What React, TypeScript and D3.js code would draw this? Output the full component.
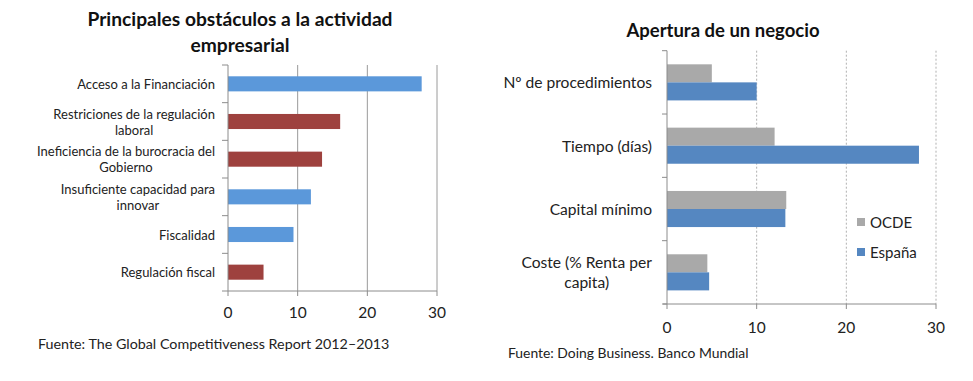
import React from "react";
import * as d3 from "d3";

const leftTitle = ["Principales obstáculos a la actividad", "empresarial"];
const leftCategories = [
  "Acceso a la Financiación",
  "Restriciones de la regulación\nlaboral",
  "Ineficiencia de la burocracia del\nGobierno",
  "Insuficiente capacidad para\ninnovar",
  "Fiscalidad",
  "Regulación fiscal",
];
const leftValues = [27.8, 16.1, 13.5, 11.9, 9.4, 5.1];
const leftGroup = ["a", "b", "b", "a", "a", "b"];
const leftTicks = [0, 10, 20, 30];
const leftSource = "Fuente: The Global Competitiveness Report 2012–2013";

const rightTitle = "Apertura de un negocio";
const rightCategories = [
  "Nº de procedimientos",
  "Tiempo (días)",
  "Capital mínimo",
  "Coste (% Renta per\ncapita)",
];
const seriesNames = ["OCDE", "España"];
const ocdeValues = [5, 12, 13.3, 4.5];
const espanaValues = [10, 28.1, 13.2, 4.7];
const rightTicks = [0, 10, 20, 30];
const rightSource = "Fuente: Doing Business. Banco Mundial";

const FONT = "Lato, 'Open Sans', sans-serif";
const BLUE_L = "#5b98da";
const RED_L = "#9e413e";
const GRAY = "#a9a9a9";
const BLUE_R = "#5587c1";
const AXIS = "#8c8c8c";

function Label({ x, y, text, size }: { x: number; y: number; text: string; size: number }) {
  return (
    <text x={x} y={y} textAnchor="end" fontSize={size} fill="#222" dominantBaseline="central">
      {text}
    </text>
  );
}

function MultiLabel({ right, y, text, size, lh }: { right: number; y: number; text: string; size: number; lh: number }) {
  const lines = text.split("\n");
  const ref = React.useRef<SVGTextElement>(null);
  const [w, setW] = React.useState(0);
  React.useLayoutEffect(() => {
    if (ref.current) setW(ref.current.getBBox().width);
  }, [text, size]);
  const cx = right - w / 2;
  const y0 = y - ((lines.length - 1) * lh) / 2;
  return (
    <text ref={ref} textAnchor="middle" fontSize={size} fill="#222" dominantBaseline="central">
      {lines.map((l, i) => (
        <tspan key={i} x={cx} y={y0 + i * lh}>
          {l}
        </tspan>
      ))}
    </text>
  );
}

export default function App() {
  // left chart
  const lx = d3.scaleLinear().domain([0, 30]).range([228, 437]);
  const ly = d3.scaleBand<string>().domain(leftCategories).range([65, 291]).paddingInner(0.6).paddingOuter(0.3);
  const lStep = ly.step();
  const lTop = 65;
  const lBottom = 291;

  // right chart
  const rx = d3.scaleLinear().domain([0, 30]).range([667, 936]);
  const ry = d3.scaleBand<string>().domain(rightCategories).range([50.7, 304]).paddingInner(0.43).paddingOuter(0.215);
  const rSub = d3.scaleBand<string>().domain(seriesNames).range([0, ry.bandwidth()]);
  const rStep = ry.step();
  const rTop = 50.7;
  const rBottom = 304;
  const rColors = [GRAY, BLUE_R];
  const rSeries = [ocdeValues, espanaValues];

  return (
    <svg width={973} height={381} style={{ position: "absolute", left: 0, top: 0, background: "#fff" }} fontFamily={FONT}>
      <rect x={0} y={0} width={973} height={381} fill="#fff" />
      {/* LEFT CHART */}
      {leftTitle.map((t, i) => (
        <text key={i} x={240} y={18 + i * 26} textAnchor="middle" dominantBaseline="central" fontSize={19.2} fontWeight="bold" fill="#111">
          {t}
        </text>
      ))}
      {leftTicks.slice(1).map((t) => (
        <line key={t} x1={lx(t)} x2={lx(t)} y1={lTop} y2={lBottom} stroke="#9a9a9a" strokeWidth={1} />
      ))}
      {leftCategories.map((c, i) => (
        <rect key={c} x={lx(0)} y={ly(c)!} width={lx(leftValues[i]) - lx(0)} height={ly.bandwidth()} fill={leftGroup[i] === "a" ? BLUE_L : RED_L} />
      ))}
      <line x1={lx(0)} x2={lx(0)} y1={lTop} y2={lBottom} stroke={AXIS} />
      <line x1={lx(0)} x2={lx(30)} y1={lBottom} y2={lBottom} stroke={AXIS} />
      {d3.range(leftCategories.length + 1).map((i) => (
        <line key={i} x1={lx(0) - 6} x2={lx(0)} y1={lTop + i * lStep} y2={lTop + i * lStep} stroke={AXIS} />
      ))}
      {leftTicks.map((t) => (
        <g key={t}>
          <line x1={lx(t)} x2={lx(t)} y1={lBottom} y2={lBottom + 5} stroke={AXIS} />
          <text x={lx(t)} y={312} textAnchor="middle" dominantBaseline="central" fontSize={15.5} fill="#222">
            {t}
          </text>
        </g>
      ))}
      {leftCategories.map((c) => {
        const cy = ly(c)! + ly.bandwidth() / 2;
        const lines = c.split("\n");
        if (lines.length === 1) return <Label key={c} x={215} y={cy} text={c} size={13} />;
        return <MultiLabel key={c} right={215} y={cy} text={c} size={13} lh={16} />;
      })}
      <text x={38} y={343} fontSize={14.3} dominantBaseline="central" fill="#222">
        {leftSource}
      </text>

      {/* RIGHT CHART */}
      <text x={723} y={30} textAnchor="middle" dominantBaseline="central" fontSize={18.5} fontWeight="bold" fill="#111">
        {rightTitle}
      </text>
      {rightTicks.slice(1).map((t) => (
        <line key={t} x1={rx(t)} x2={rx(t)} y1={rTop} y2={rBottom} stroke="#b0b0b0" strokeWidth={1} strokeDasharray="2,2" />
      ))}
      {rightCategories.map((c, i) => (
        <g key={c}>
          {seriesNames.map((s, j) => (
            <rect key={s} x={rx(0)} y={ry(c)! + rSub(s)!} width={rx(rSeries[j][i]) - rx(0)} height={rSub.bandwidth()} fill={rColors[j]} />
          ))}
        </g>
      ))}
      <line x1={rx(0)} x2={rx(0)} y1={rTop} y2={rBottom} stroke={AXIS} />
      <line x1={rx(0) - 4} x2={rx(30)} y1={rBottom} y2={rBottom} stroke={AXIS} />
      {d3.range(rightCategories.length + 1).map((i) => (
        <line key={i} x1={rx(0) - 5} x2={rx(0)} y1={rTop + i * rStep} y2={rTop + i * rStep} stroke={AXIS} />
      ))}
      {rightTicks.map((t) => (
        <g key={t}>
          <line x1={rx(t)} x2={rx(t)} y1={rBottom} y2={rBottom + 5} stroke={AXIS} />
          <text x={rx(t)} y={327} textAnchor="middle" dominantBaseline="central" fontSize={15.5} fill="#222">
            {t}
          </text>
        </g>
      ))}
      {rightCategories.map((c) => {
        const cy = ry(c)! + ry.bandwidth() / 2;
        const lines = c.split("\n");
        if (lines.length === 1) return <Label key={c} x={652} y={cy} text={c} size={15.6} />;
        return <MultiLabel key={c} right={652} y={cy} text={c} size={15.6} lh={20} />;
      })}
      {seriesNames.map((s, j) => (
        <g key={s}>
          <rect x={857} y={218 + j * 30} width={8} height={8} fill={rColors[j]} />
          <text x={870} y={222 + j * 30} dominantBaseline="central" fontSize={15} fill="#222">
            {s}
          </text>
        </g>
      ))}
      <text x={508} y={352} fontSize={13.9} dominantBaseline="central" fill="#222">
        {rightSource}
      </text>
    </svg>
  );
}
